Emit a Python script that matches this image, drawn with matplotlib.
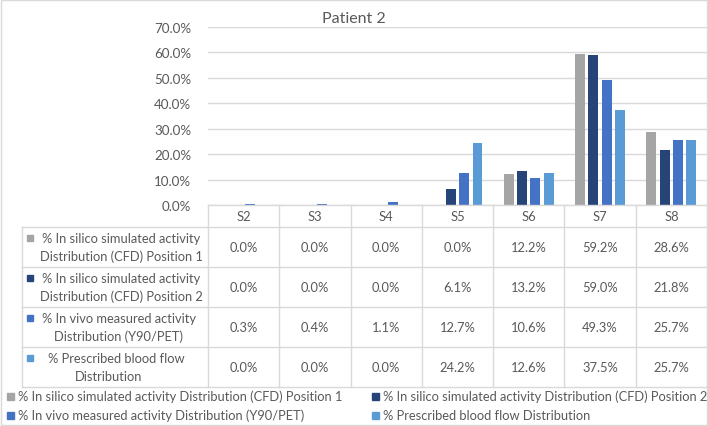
import matplotlib
matplotlib.use("Agg")
import matplotlib.pyplot as plt
import numpy as np
from matplotlib.patches import Rectangle
from matplotlib.lines import Line2D
from matplotlib.transforms import blended_transform_factory

# --- dados do gráfico ---
segmentos = ["S2", "S3", "S4", "S5", "S6", "S7", "S8"]
cfd_pos1 = [0.0, 0.0, 0.0, 0.0, 12.2, 59.2, 28.6]
cfd_pos2 = [0.0, 0.0, 0.0, 6.1, 13.2, 59.0, 21.8]
in_vivo = [0.3, 0.4, 1.1, 12.7, 10.6, 49.3, 25.7]
prescrito = [0.0, 0.0, 0.0, 24.2, 12.6, 37.5, 25.7]

nomes_legenda = [
    "% In silico simulated activity Distribution (CFD) Position 1",
    "% In silico simulated activity Distribution (CFD) Position 2",
    "% In vivo measured activity Distribution (Y90/PET)",
    "% Prescribed blood flow Distribution",
]
nomes_tabela = [
    ["% In silico simulated activity", "Distribution (CFD) Position 1"],
    ["% In silico simulated activity", "Distribution (CFD) Position 2"],
    ["% In vivo measured activity", "Distribution (Y90/PET)"],
    ["% Prescribed blood flow", "Distribution"],
]
titulo = "Patient 2"
y_ticks = [0, 10, 20, 30, 40, 50, 60, 70]

series = [cfd_pos1, cfd_pos2, in_vivo, prescrito]
cores = ["#A5A5A5", "#264478", "#4472C4", "#5B9BD5"]

plt.rcParams["font.family"] = ["Lato", "DejaVu Sans"]
TXT = "#595959"
GRADE = "#D9D9D9"
FS = 9.3

W, H = 708, 427
fig = plt.figure(figsize=(W / 100, H / 100), dpi=100)
fig.patch.set_facecolor("white")

# eixo das barras (coordenadas em pixels convertidas para fração)
x_esq, x_dir = 208, 707
y_topo, y_base = 28, 206
ax = fig.add_axes([x_esq / W, 1 - y_base / H, (x_dir - x_esq) / W, (y_base - y_topo) / H])
ax.set_xlim(-0.5, len(segmentos) - 0.5)
ax.set_ylim(0, 70)
ax.set_yticks(y_ticks)
ax.set_yticklabels([f"{v:.1f}%" for v in y_ticks], color=TXT, fontsize=FS + 0.3)
ax.tick_params(axis="y", length=0, pad=12)
ax.set_xticks([])
for s in ax.spines.values():
    s.set_visible(False)
ax.grid(axis="y", color=GRADE, linewidth=1)
ax.set_axisbelow(True)

x = np.arange(len(segmentos))
largura = 0.14
passo = 0.187
for i, (vals, cor) in enumerate(zip(series, cores)):
    ax.bar(x + (i - 1.5) * passo, vals, width=largura, color=cor, zorder=3)

# eixo de sobreposição em pixels para a tabela e a legenda
over = fig.add_axes([0, 0, 1, 1], facecolor="none")
over.set_xlim(0, W)
over.set_ylim(H, 0)
over.axis("off")
trans = blended_transform_factory(ax.transData, over.transData)

over.text(354, 19, titulo, ha="center", va="center", fontsize=11.5, color=TXT)

# tabela de dados
linhas_y = [206, 228, 268, 308, 348, 388]
tab_esq = 22
for j, yy in enumerate(linhas_y):
    x0 = x_esq if j == 0 else tab_esq
    over.add_line(Line2D([x0, x_dir], [yy, yy], color=GRADE, lw=1))
for k in range(len(segmentos) + 1):
    over.add_line(Line2D([k - 0.5, k - 0.5], [206, 388], color=GRADE, lw=1, transform=trans))
over.add_line(Line2D([tab_esq, tab_esq], [228, 388], color=GRADE, lw=1))

for k, seg in enumerate(segmentos):
    over.text(k, 217.5, seg, ha="center", va="center", fontsize=FS, color=TXT, transform=trans)

centros_y = [(linhas_y[j + 1] + linhas_y[j + 2]) / 2 for j in range(4)]
for j, vals in enumerate(series):
    for k, v in enumerate(vals):
        over.text(k, centros_y[j], f"{v:.1f}%", ha="center", va="center",
                  fontsize=FS, color=TXT, transform=trans)

# rótulos das linhas da tabela (marcador fixo à esquerda, texto centrado)
centros_rot = [(121.5, 121.5), (121.5, 121.5), (118.5, 118), (116, 109)]
for j, (l1, l2) in enumerate(nomes_tabela):
    yc = centros_y[j]
    c1, c2 = centros_rot[j]
    over.text(c1, yc - 9, l1, ha="center", va="center", fontsize=FS, color=TXT)
    over.text(c2, yc + 9, l2, ha="center", va="center", fontsize=FS, color=TXT)
    over.add_patch(Rectangle((27, yc - 9 - 3), 6, 6, color=cores[j]))

# legenda
pos_leg = [(7, 397), (372, 397), (7, 416), (372, 416)]
for (lx, ly), nome, cor in zip(pos_leg, nomes_legenda, cores):
    over.add_patch(Rectangle((lx, ly - 3), 6.5, 6.5, color=cor))
    over.text(lx + 11, ly, nome, ha="left", va="center", fontsize=FS, color=TXT)

# borda externa
over.add_patch(Rectangle((0.5, 0.5), W - 2, H - 2, fill=False, edgecolor=GRADE, lw=1))

fig.savefig("out.png", dpi=100)
